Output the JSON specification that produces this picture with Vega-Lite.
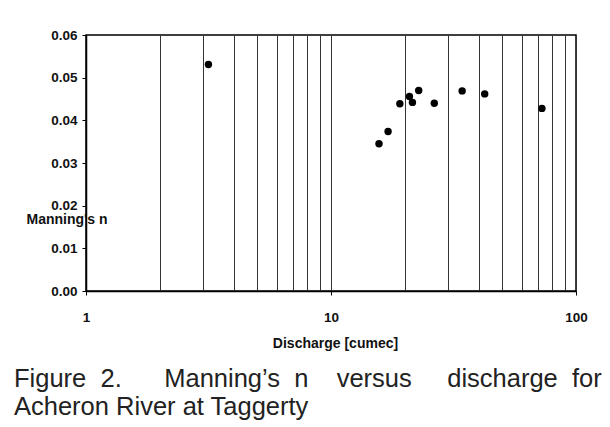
{
  "$schema": "https://vega.github.io/schema/vega-lite/v6.json",
  "width": 490,
  "height": 256,
  "autosize": {"type": "none"},
  "padding": {"left": 86, "top": 35, "right": 34, "bottom": 136},
  "background": "white",
  "data": {
    "values": [
      {"discharge": 3.16, "n": 0.0531},
      {"discharge": 15.7, "n": 0.0345},
      {"discharge": 17.1, "n": 0.0374},
      {"discharge": 19.1, "n": 0.0439},
      {"discharge": 20.9, "n": 0.0456},
      {"discharge": 21.5, "n": 0.0442},
      {"discharge": 22.8, "n": 0.0470},
      {"discharge": 26.4, "n": 0.0440},
      {"discharge": 34.3, "n": 0.0469},
      {"discharge": 42.4, "n": 0.0462},
      {"discharge": 72.6, "n": 0.0428}
    ]
  },
  "title": {
    "text": [
      "Figure\u00a0\u00a02.\u00a0\u00a0\u00a0\u00a0\u00a0\u00a0Manning’s\u00a0\u00a0n\u00a0\u00a0\u00a0\u00a0versus\u00a0\u00a0\u00a0\u00a0\u00a0discharge\u00a0\u00a0for",
      "Acheron River at Taggerty"
    ],
    "orient": "bottom",
    "anchor": "start",
    "frame": "group",
    "dx": -72,
    "offset": 17,
    "font": "Liberation Sans",
    "fontSize": 25.5,
    "fontWeight": "normal",
    "color": "#222222",
    "lineHeight": 28
  },
  "mark": {"type": "circle", "size": 55, "color": "black", "opacity": 1},
  "encoding": {
    "x": {
      "field": "discharge",
      "type": "quantitative",
      "scale": {"type": "log", "domain": [1, 100], "nice": false},
      "axis": {
        "values": [1, 2, 3, 4, 5, 6, 7, 8, 9, 10, 20, 30, 40, 50, 60, 70, 80, 90, 100],
        "format": "d",
        "labelExpr": "datum.value == 1 || datum.value == 10 || datum.value == 100 ? datum.label : ''",
        "labelOverlap": false,
        "labelFlush": false,
        "grid": true,
        "gridColor": "#333333",
        "gridWidth": 1,
        "gridOpacity": 1,
        "tickSize": 4,
        "tickOpacity": {"condition": {"test": "datum.value == 1 || datum.value == 10 || datum.value == 100", "value": 1}, "value": 0},
        "labelPadding": 15,
        "title": "Discharge [cumec]",
        "titleX": 249,
        "titleY": 56,
        "titleBaseline": "alphabetic",
        "titleAlign": "center"
      }
    },
    "y": {
      "field": "n",
      "type": "quantitative",
      "scale": {"domain": [0, 0.06], "nice": false, "zero": true},
      "axis": {
        "values": [0, 0.01, 0.02, 0.03, 0.04, 0.05, 0.06],
        "format": ".2f",
        "grid": false,
        "tickSize": 4,
        "labelPadding": 5,
        "title": "Manning's n",
        "titleAngle": 0,
        "titleX": -60,
        "titleY": 188,
        "titleAlign": "left",
        "titleBaseline": "alphabetic"
      }
    }
  },
  "config": {
    "view": {"stroke": "black", "strokeWidth": 1.5},
    "axis": {
      "domainColor": "black",
      "domainWidth": 1.5,
      "tickColor": "black",
      "labelFont": "Liberation Sans",
      "labelFontSize": 13.5,
      "labelFontWeight": "bold",
      "labelColor": "#111111",
      "titleFont": "Liberation Sans",
      "titleFontSize": 14,
      "titleFontWeight": "bold",
      "titleColor": "#111111"
    }
  }
}
